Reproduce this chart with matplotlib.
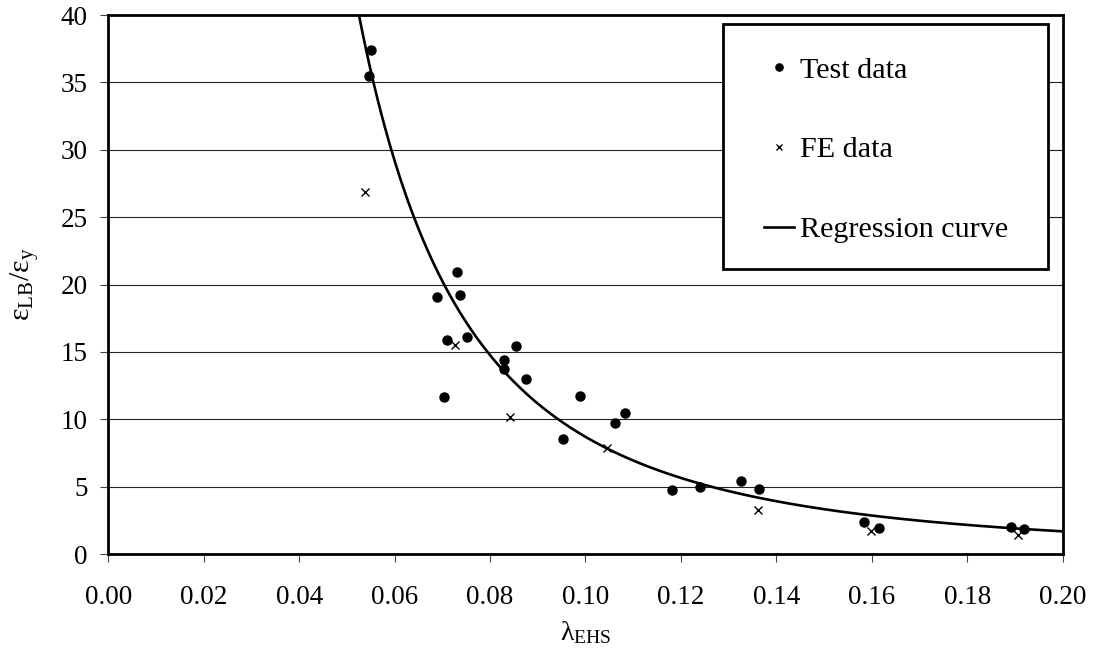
import numpy as np
import matplotlib
matplotlib.use("Agg")
import matplotlib.pyplot as plt
from matplotlib.patches import Rectangle

plt.rcParams['font.family'] = ['Liberation Serif', 'DejaVu Serif']
plt.rcParams['mathtext.fontset'] = 'custom'
plt.rcParams['mathtext.rm'] = 'Liberation Serif'
plt.rcParams['mathtext.it'] = 'Liberation Serif:italic'

# Test data (lambda_EHS, eps_LB/eps_y)
test_x = [0.0551, 0.0546, 0.0731, 0.0688, 0.0738, 0.0709, 0.0752, 0.0854, 0.0830,
          0.0830, 0.0875, 0.0703, 0.0988, 0.1083, 0.1061, 0.0953, 0.1181, 0.1239,
          0.1325, 0.1364, 0.1584, 0.1615, 0.1891, 0.1919]
test_y = [37.4, 35.5, 20.95, 19.07, 19.25, 15.88, 16.08, 15.46, 14.4,
          13.7, 12.99, 11.67, 11.70, 10.49, 9.72, 8.51, 4.72, 5.0,
          5.42, 4.82, 2.35, 1.90, 2.03, 1.86]

# FE data
fe_x = [0.0539, 0.0727, 0.0842, 0.1046, 0.1362, 0.1599, 0.1906]
fe_y = [26.84, 15.5, 10.14, 7.89, 3.27, 1.70, 1.43]

# Regression curve: y = a * x^b
reg_a = 0.0371
reg_b = -2.37
reg_x = np.linspace(0.050, 0.2, 400)
reg_y = reg_a * reg_x ** reg_b

x_ticks = [0.00, 0.02, 0.04, 0.06, 0.08, 0.10, 0.12, 0.14, 0.16, 0.18, 0.20]
y_ticks = [0, 5, 10, 15, 20, 25, 30, 35, 40]

fig = plt.figure(figsize=(10.96, 6.59), dpi=100)
ax = fig.add_axes([0.0988, 0.1593, 0.8708, 0.8179])

ax.set_xlim(0, 0.2)
ax.set_ylim(0, 40)
ax.set_xticks(x_ticks)
ax.set_yticks(y_ticks)
ax.set_xticklabels([f"{v:.2f}" for v in x_ticks])
ax.set_yticklabels([str(v) for v in y_ticks])
ax.grid(axis='y', color='#222222', linewidth=0.8)
ax.set_axisbelow(True)

ax.plot(test_x, test_y, 'o', color='black', markersize=6.5, label='Test data', zorder=3)
ax.plot(fe_x, fe_y, 'x', color='black', markersize=6, markeredgewidth=1.0, label='FE data', zorder=3)
ax.plot(reg_x, reg_y, '-', color='black', linewidth=1.9, label='Regression curve', zorder=4)

for s in ax.spines.values():
    s.set_linewidth(2.0)
    s.set_color('black')
ax.tick_params(axis='both', direction='out', length=6, width=0.8, color='#444444',
               labelsize=19.5)
ax.tick_params(axis='x', pad=16)
ax.tick_params(axis='y', pad=9)

ax.set_xlabel(r'$\mathrm{λ_{EHS}}$', fontsize=20, labelpad=7)
ax.set_ylabel(r'$\mathrm{ε_{LB}/ε_{y}}$', fontsize=21.5, labelpad=14)

# Legend frame
frame = Rectangle((0.6438, 0.5288), 0.3405, 0.454, transform=ax.transAxes,
                  facecolor='white', edgecolor='black', linewidth=2.0, zorder=5)
ax.add_patch(frame)

leg = ax.legend(loc='upper left', bbox_to_anchor=(0.6556, 0.979),
                borderaxespad=0, frameon=False, fontsize=21.7, labelspacing=1.75,
                handlelength=1.0, handletextpad=0.2, borderpad=1.0, markerscale=0.8)
leg.set_zorder(6)

fig.savefig('out.png', dpi=100)
